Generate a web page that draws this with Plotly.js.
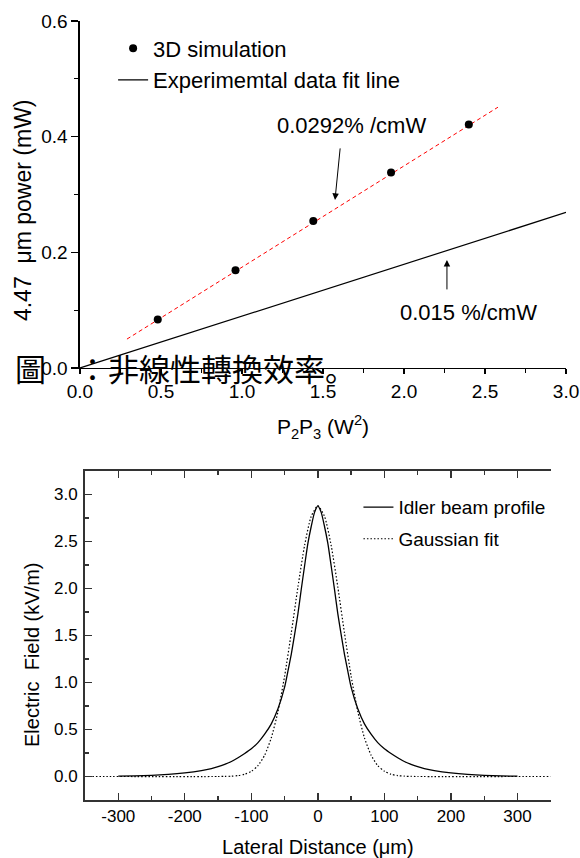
<!DOCTYPE html>
<html><head><meta charset="utf-8">
<script src="https://cdn.plot.ly/plotly-3.0.1.min.js"></script>
<style>html,body{margin:0;padding:0;background:#fff;} #chart{width:580px;height:858px;}</style>
</head><body><div id="chart"></div>
<script>
// ---- Top chart data: nonlinear conversion efficiency ----
const simX = [0.48, 0.96, 1.44, 1.92, 2.40];
const simY = [0.084, 0.169, 0.254, 0.338, 0.421];
const simFitX = [0.29, 2.58];
const simFitY = [0.050, 0.451];
const expFitX = [0, 3.0];
const expFitY = [0, 0.269];

// ---- Bottom chart data: idler beam profile ----
const idlerX = [-300,-275,-250,-225,-200,-175,-160,-150,-140,-130,-120,-110,-100,-90,-80,-70,-60,-50,-45,-40,-35,-30,-25,-20,-15,-10,-5,0,5,10,15,20,25,30,35,40,45,50,60,70,80,90,100,110,120,130,140,150,160,175,200,225,250,275,300];
const idlerY = [0.003,0.006,0.012,0.022,0.038,0.063,0.085,0.105,0.13,0.16,0.20,0.245,0.295,0.36,0.45,0.56,0.72,0.95,1.12,1.30,1.51,1.73,1.99,2.24,2.48,2.66,2.81,2.88,2.81,2.66,2.48,2.24,1.99,1.73,1.51,1.30,1.12,0.95,0.72,0.56,0.45,0.36,0.295,0.245,0.20,0.16,0.13,0.105,0.085,0.063,0.038,0.022,0.012,0.006,0.003];
const gaussX = [-350,-150,-140,-130,-120,-110,-100,-90,-80,-70,-60,-50,-40,-30,-20,-10,0,10,20,30,40,50,60,70,80,90,100,110,120,130,140,150,350];
const gaussY = [0,0,0.001,0.0035,0.0095,0.024,0.055,0.116,0.227,0.412,0.69,1.068,1.526,2.015,2.457,2.768,2.88,2.768,2.457,2.015,1.526,1.068,0.69,0.412,0.227,0.116,0.055,0.024,0.0095,0.0035,0.001,0,0];

const topLegend = ['3D simulation', 'Experimemtal data fit line'];
const botLegend = ['Idler beam profile', 'Gaussian fit'];
const lateralTickVals = [-300, -200, -100, 0, 100, 200, 300];
const lateralTickText = ['-300', '-200', '-100', '0', '100', '200', '300'];

const FONT = 'Arial, "Liberation Sans", sans-serif';

const traces = [
  {x: simFitX, y: simFitY, type: 'scatter', mode: 'lines', showlegend: false, hoverinfo: 'skip',
   line: {color: '#ff0000', width: 1, dash: '4px,3px'}, xaxis: 'x', yaxis: 'y'},
  {x: simX, y: simY, type: 'scatter', mode: 'markers', name: topLegend[0], legend: 'legend',
   marker: {color: 'black', size: 8}, xaxis: 'x', yaxis: 'y', legendgroup: 'a'},
  {x: expFitX, y: expFitY, type: 'scatter', mode: 'lines', name: topLegend[1], legend: 'legend',
   line: {color: 'black', width: 1.2}, xaxis: 'x', yaxis: 'y', legendgroup: 'b'},
  {x: idlerX, y: idlerY, type: 'scatter', mode: 'lines', name: botLegend[0], legend: 'legend2',
   line: {color: 'black', width: 1.3, shape: 'spline', smoothing: 0.6}, xaxis: 'x2', yaxis: 'y2', legendgroup: 'c'},
  {x: gaussX, y: gaussY, type: 'scatter', mode: 'lines', name: botLegend[1], legend: 'legend2',
   line: {color: 'black', width: 1.2, dash: '1.5px,2px', shape: 'spline', smoothing: 0.6}, xaxis: 'x2', yaxis: 'y2', legendgroup: 'd'}
];

const tickBase = {showgrid: false, zeroline: false, showline: true, tickcolor: 'black', fixedrange: true};

const layout = {
  width: 580, height: 858,
  margin: {l: 0, r: 0, t: 0, b: 0},
  paper_bgcolor: 'white', plot_bgcolor: 'white',
  font: {family: FONT, color: 'black'},
  showlegend: true,
  // top chart
  xaxis: Object.assign({}, tickBase, {
    domain: [0.1379, 0.9759], range: [0, 3], anchor: 'y',
    tickmode: 'linear', tick0: 0, dtick: 0.5, tickformat: '.1f',
    ticks: 'outside', ticklen: 5, tickwidth: 1.2, linecolor: 'black', linewidth: 1.5,
    tickfont: {size: 19, family: FONT}, ticklabelstandoff: 1,
    minor: {dtick: 0.25, ticks: 'outside', ticklen: 4, tickwidth: 1.2, tickcolor: 'black', showgrid: false},
    title: {text: 'P<sub>2</sub>P<sub>3</sub> (W<sup>2</sup>)', font: {size: 21, family: FONT}, standoff: 18}
  }),
  xaxis3: Object.assign({}, tickBase, {
    overlaying: 'x', side: 'top', anchor: 'y', range: [0, 3], tickmode: 'linear', tick0: 0, dtick: 0.25,
    ticks: 'inside', ticklen: 5, tickwidth: 1.2, linecolor: 'black', linewidth: 1.5, showticklabels: false
  }),
  yaxis: Object.assign({}, tickBase, {
    domain: [0.5711, 0.9755], range: [0, 0.6], anchor: 'x',
    tickmode: 'linear', tick0: 0, dtick: 0.2, tickformat: '.1f',
    ticks: 'outside', ticklen: 7, tickwidth: 1.2, linecolor: 'black', linewidth: 1.5,
    tickfont: {size: 19, family: FONT},
    minor: {dtick: 0.1, ticks: 'outside', ticklen: 4, tickwidth: 1.2, tickcolor: 'black', showgrid: false}
  }),
  yaxis3: Object.assign({}, tickBase, {
    overlaying: 'y', side: 'right', anchor: 'x', range: [0, 0.6], tickmode: 'linear', tick0: 0, dtick: 0.1,
    ticks: 'inside', ticklen: 4, tickwidth: 1.2, linecolor: 'black', linewidth: 1.5, showticklabels: false
  }),
  // bottom chart
  xaxis2: Object.assign({}, tickBase, {
    domain: [0.1466, 0.9495], range: [-350, 350], anchor: 'y2',
    tickmode: 'array', tickvals: lateralTickVals, ticktext: lateralTickText,
    ticks: 'inside', ticklen: 7, tickwidth: 1.3, tickcolor: '#333', linecolor: '#333', linewidth: 2, mirror: 'ticks',
    tickfont: {size: 17, family: FONT}, ticklabelstandoff: 0,
    minor: {tickmode: 'linear', tick0: 0, dtick: 50, ticks: 'inside', ticklen: 4, tickwidth: 1.3, tickcolor: '#333', showgrid: false},
    title: {text: 'Lateral Distance (\u03bcm)', font: {size: 20, family: FONT}, standoff: 16}
  }),
  yaxis2: Object.assign({}, tickBase, {
    domain: [0.0676, 0.4510], range: [-0.25, 3.25], anchor: 'x2',
    tickmode: 'linear', tick0: 0, dtick: 0.5, tickformat: '.1f',
    ticks: 'inside', ticklen: 7, tickwidth: 1.3, tickcolor: '#333', linecolor: '#333', linewidth: 2,
    tickfont: {size: 17, family: FONT}, ticklabelstandoff: 2,
    minor: {dtick: 0.25, ticks: 'inside', ticklen: 4, tickwidth: 1.3, tickcolor: '#333', showgrid: false}
  }),
  yaxis4: Object.assign({}, tickBase, {
    overlaying: 'y2', side: 'right', anchor: 'x2', range: [-0.25, 3.25], tickmode: 'linear', tick0: 0, dtick: 0.25,
    ticks: 'outside', ticklen: 3, tickwidth: 1.3, tickcolor: '#333', linecolor: '#333', linewidth: 2, showticklabels: false
  }),
  legend: {x: 0.195, xanchor: 'left', y: 0.968, yanchor: 'top', bgcolor: 'rgba(0,0,0,0)',
    font: {size: 22, family: FONT}, traceorder: 'normal', tracegroupgap: 0, itemwidth: 30},
  legend2: {x: 0.618, xanchor: 'left', y: 0.431, yanchor: 'top', bgcolor: 'rgba(0,0,0,0)',
    font: {size: 19, family: FONT}, traceorder: 'grouped', tracegroupgap: 4, itemwidth: 30},
  annotations: [
    {xref: 'x', yref: 'y', x: 1.673, y: 0.4187, text: '0.0292% /cmW', showarrow: false,
     font: {size: 22, family: FONT}, xanchor: 'center', yanchor: 'middle'},
    {xref: 'x', yref: 'y', x: 1.574, y: 0.2907, ax: 6, ay: -60, text: ' ', showarrow: true,
     arrowhead: 2, arrowsize: 1.3, arrowwidth: 1, arrowcolor: 'black', standoff: 0, startstandoff: 0},
    {xref: 'x', yref: 'y', x: 2.398, y: 0.0952, text: '0.015 %/cmW', showarrow: false,
     font: {size: 22, family: FONT}, xanchor: 'center', yanchor: 'middle'},
    {xref: 'x', yref: 'y', x: 2.265, y: 0.1869, ax: 0, ay: 38, text: ' ', showarrow: true,
     arrowhead: 2, arrowsize: 1.3, arrowwidth: 1, arrowcolor: 'black', standoff: 0, startstandoff: 0},
    {xref: 'paper', yref: 'paper', x: 0.0397, y: 0.7552, text: '4.47\u00a0 \u03bcm power (mW)', textangle: -90,
     showarrow: false, font: {size: 23, family: FONT}, xanchor: 'center', yanchor: 'middle'},
    {xref: 'paper', yref: 'paper', x: 0.0552, y: 0.2366, text: 'Electric\u00a0 Field (kV/m)', textangle: -90,
     showarrow: false, font: {size: 20, family: FONT}, xanchor: 'center', yanchor: 'middle'},
    {xref: 'paper', yref: 'paper', x: 0.0224, y: 0.5711, text: '圖\u3000：非線性轉換效率。', showarrow: false,
     font: {size: 31, family: '"Noto Sans CJK JP", "Noto Sans CJK TC", sans-serif', color: 'black'},
     xanchor: 'left', yanchor: 'middle'}
  ]
};

Plotly.newPlot('chart', traces, layout, {staticPlot: true, displayModeBar: false});
</script>
</body></html>
